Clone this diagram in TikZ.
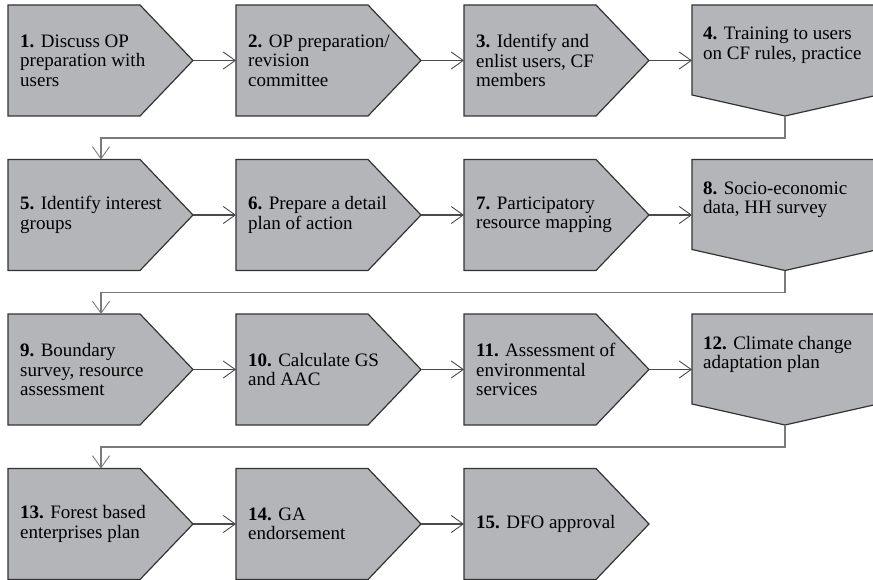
\documentclass[tikz,border=0pt]{standalone}
\usepackage{fontspec}
\setmainfont{Liberation Serif}
\usetikzlibrary{arrows.meta}

\definecolor{boxfill}{HTML}{B4B5B8}
\definecolor{boxline}{HTML}{333333}
\definecolor{flowline}{HTML}{4A4A4A}
\definecolor{returnline}{HTML}{7A7A7A}

\tikzset{
  stepshape/.style={fill=boxfill, draw=boxline, line width=1.2pt, line join=miter},
  steptext/.style={inner sep=0pt, align=left, text=black,
    font=\fontsize{19}{19.5}\selectfont},
  flow/.style={draw=flowline, line width=1.8pt,
    -{Straight Barb[length=12pt, width=17pt, line width=0.9pt]}},
  wrapline/.style={draw=returnline, line width=1.1pt,
    -{Straight Barb[length=12pt, width=17pt, line width=0.9pt]}},
}

% right-pointing step: name, left x, top y, text
\newcommand\rightstep[4]{%
  \path[stepshape] (#2,#3) -- ++(132,0) -- ++(53,55.5) -- ++(-53,55.5) -- ++(-132,0) -- cycle;
  \coordinate (#1-in) at (#2,#3+55.5);
  \coordinate (#1-out) at (#2+185,#3+55.5);
  \coordinate (#1-top) at (#2+93,#3);
  \node[steptext, anchor=west] (#1) at (#2+12,#3+55.5) {#4};
}
% down-pointing step at the end of a row
\newcommand\downstep[4]{%
  \path[stepshape] (#2,#3) -- ++(186,0) -- ++(0,90) -- ++(-93,21) -- ++(-93,-21) -- cycle;
  \coordinate (#1-in) at (#2,#3+55.5);
  \coordinate (#1-out) at (#2+93,#3+111);
  \node[steptext, anchor=north west] (#1) at (#2+11,#3+22) {#4};
}

\begin{document}
\begin{tikzpicture}[x=1pt, y=-1pt]
\useasboundingbox (0,0) rectangle (873,580);

% row 1
\rightstep{s1}{8}{5}{\textbf{1.} Discuss OP\\preparation with\\users}
\rightstep{s2}{236}{5}{\textbf{2.} OP preparation/\\revision\\committee}
\rightstep{s3}{464}{5}{\textbf{3.} Identify and\\enlist users, CF\\members}
\downstep{s4}{692}{5}{\textbf{4.} Training to users\\on CF rules, practice}
% row 2
\rightstep{s5}{8}{159.5}{\textbf{5.} Identify interest\\groups}
\rightstep{s6}{236}{159.5}{\textbf{6.} Prepare a detail\\plan of action}
\rightstep{s7}{464}{159.5}{\textbf{7.} Participatory\\resource mapping}
\downstep{s8}{692}{159.5}{\textbf{8.} Socio-economic\\data, HH survey}
% row 3
\rightstep{s9}{8}{314}{\textbf{9.} Boundary\\survey, resource\\assessment}
\rightstep{s10}{236}{314}{\textbf{10.} Calculate GS\\and AAC}
\rightstep{s11}{464}{314}{\textbf{11.} Assessment of\\environmental\\services}
\downstep{s12}{692}{314}{\textbf{12.} Climate change\\adaptation plan}
% row 4
\rightstep{s13}{8}{468.5}{\textbf{13.} Forest based\\enterprises plan}
\rightstep{s14}{236}{468.5}{\textbf{14.} GA\\endorsement}
\rightstep{s15}{464}{468.5}{\textbf{15.} DFO approval}

% arrows along each row
\draw[flow] (s1-out) -- (s2-in);
\draw[flow] (s2-out) -- (s3-in);
\draw[flow] (s3-out) -- (s4-in);
\draw[flow] (s5-out) -- (s6-in);
\draw[flow] (s6-out) -- (s7-in);
\draw[flow] (s7-out) -- (s8-in);
\draw[flow] (s9-out) -- (s10-in);
\draw[flow] (s10-out) -- (s11-in);
\draw[flow] (s11-out) -- (s12-in);
\draw[flow] (s13-out) -- (s14-in);
\draw[flow] (s14-out) -- (s15-in);

% returns to the start of the next row
\draw[wrapline] (s4-out) -- ++(0,22) -| (s5-top);
\draw[wrapline] (s8-out) -- ++(0,22) -| (s9-top);
\draw[wrapline] (s12-out) -- ++(0,22) -| (s13-top);
\end{tikzpicture}
\end{document}
